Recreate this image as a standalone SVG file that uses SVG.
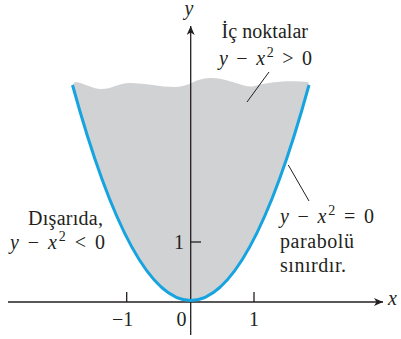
<svg xmlns="http://www.w3.org/2000/svg" width="401" height="339" viewBox="0 0 401 339">
<style>
  .t { font-family: "Liberation Serif", "Times New Roman", serif; font-size: 20px; fill: #231f20; }
  .i { font-style: italic; }
  .sup { font-size: 14px; }
  .axis { stroke: #231f20; stroke-width: 1.3; fill: none; }
  .lead { stroke: #231f20; stroke-width: 1; fill: none; }
</style>
<defs>
  <marker id="arr" markerWidth="10" markerHeight="8" refX="9" refY="4" orient="auto" markerUnits="userSpaceOnUse">
    <path d="M0,0 L9,4 L0,8 L2.5,4 Z" fill="#231f20"/>
  </marker>
</defs>
<g id="region">
  <path d="M72.5,85 Q190.7,516 309,85 L308,82 C290,80 268,82 255,86 C245,89 230,78 210,78 C195,78 190,87 175,87 C160,87 145,83 130,83 C118,83 110,90 100,89 C90,88 82,82 75,82 Z" fill="#d1d2d4"/>
</g>
<g id="connectors">
  <line class="axis" x1="8" y1="302" x2="383" y2="302" marker-end="url(#arr)"/>
  <line class="axis" x1="190.7" y1="335" x2="190.7" y2="26" marker-end="url(#arr)"/>
  <line class="axis" x1="126.7" y1="292" x2="126.7" y2="302"/>
  <line class="axis" x1="254" y1="292" x2="254" y2="302"/>
  <line class="axis" x1="190.7" y1="242" x2="201" y2="242"/>
  <line class="lead" x1="269" y1="72" x2="247" y2="102"/>
  <line class="lead" x1="288.3" y1="165" x2="309" y2="201"/>
</g>
<g id="parabola">
  <path d="M72.5,85 Q190.7,516 309,85" fill="none" stroke="#16a4e0" stroke-width="3"/>
</g>
<g id="labels">
  <text class="t i" x="189" y="15" text-anchor="middle">y</text>
  <text class="t i" x="388" y="305">x</text>
  <text class="t" x="112" y="326">−1</text>
  <text class="t" x="176.5" y="326">0</text>
  <text class="t" x="254" y="326" text-anchor="middle">1</text>
  <text class="t" x="184" y="249" text-anchor="end">1</text>
</g>
<g id="interior">
  <text class="t" x="221.5" y="38" textLength="86.5" lengthAdjust="spacing">İç noktalar</text>
  <text class="t" x="219" y="65" textLength="93" lengthAdjust="spacing"><tspan class="i">y</tspan> − <tspan class="i">x</tspan><tspan class="sup" dy="-8">2</tspan><tspan dy="8"> &gt; 0</tspan></text>
</g>
<g id="exterior">
  <text class="t" x="28" y="225" textLength="75" lengthAdjust="spacing">Dışarıda,</text>
  <text class="t" x="10" y="249" textLength="95" lengthAdjust="spacing"><tspan class="i">y</tspan> − <tspan class="i">x</tspan><tspan class="sup" dy="-8">2</tspan><tspan dy="8"> &lt; 0</tspan></text>
</g>
<g id="boundary">
  <text class="t" x="280" y="223" textLength="94" lengthAdjust="spacing"><tspan class="i">y</tspan> − <tspan class="i">x</tspan><tspan class="sup" dy="-8">2</tspan><tspan dy="8"> = 0</tspan></text>
  <text class="t" x="280" y="248" textLength="74" lengthAdjust="spacing">parabolü</text>
  <text class="t" x="280" y="272" textLength="66" lengthAdjust="spacing">sınırdır.</text>
</g>
</svg>
